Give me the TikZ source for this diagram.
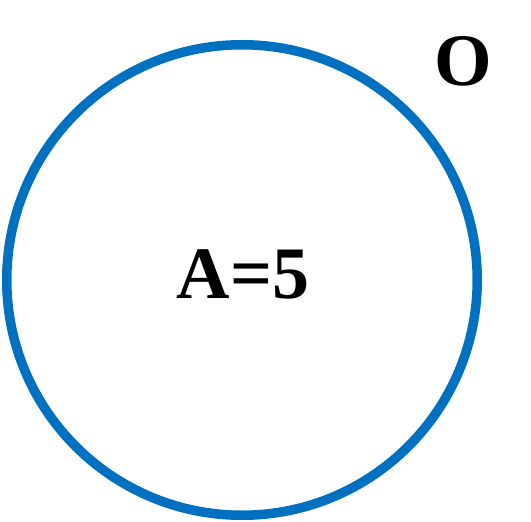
\documentclass[tikz,border=0pt]{standalone}
\usepackage{fontspec}
\setmainfont{Liberation Serif}
\definecolor{ringblue}{HTML}{0070C0}
\begin{document}
\begin{tikzpicture}[x=1pt,y=1pt,
  ring/.style={draw=ringblue,line width=9.5pt},
  biglabel/.style={font=\fontsize{74}{80}\selectfont\bfseries,inner sep=0pt,anchor=base}]
\useasboundingbox (0,0) rectangle (531,-522);
\node[ring,circle,minimum size=470.5pt,inner sep=0pt] (ring) at (242,-280) {};
\node[biglabel] (a) at (243,-298) {A=5};
\node[biglabel] (o) at (463,-85) {O};
\end{tikzpicture}
\end{document}
